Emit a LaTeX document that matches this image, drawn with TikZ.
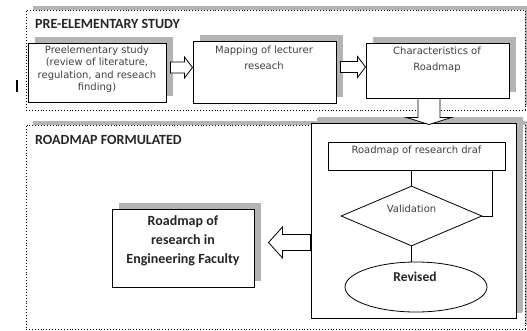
\documentclass[tikz,border=0pt]{standalone}
\usepackage{fontspec}
\setmainfont{DejaVu Sans}
\newfontfamily\calibri{Carlito}
\usepackage{xcolor}
\usetikzlibrary{calc,shapes.geometric,shadows}
\definecolor{txtgray}{HTML}{404040}
\definecolor{shadegray}{HTML}{B4B4B4}

\begin{document}
\begin{tikzpicture}[x=1pt,y=-1pt,
  frame/.style={draw, dotted, line width=0.9pt, fill=white, inner sep=0pt,
    drop shadow={shadow xshift=7pt, shadow yshift=4pt, fill=shadegray, opacity=1}},
  box/.style={draw, line width=1pt, fill=white, inner sep=0pt,
    drop shadow={shadow xshift=7pt, shadow yshift=6pt, fill=shadegray, opacity=1}},
  plain/.style={draw, line width=0.8pt, fill=white, inner sep=0pt},
  hollow/.style={draw, line width=0.8pt, fill=white, line join=miter},
  title/.style={font=\calibri\bfseries\fontsize{14}{16}\selectfont, text=black!85, anchor=west, inner sep=0pt},
  small/.style={font=\fontsize{10}{12.5}\selectfont, text=txtgray, align=center, inner sep=0pt},
  heavy/.style={font=\calibri\bfseries\fontsize{14}{19}\selectfont, text=black!85, align=center, inner sep=0pt}]
\useasboundingbox (0,0) rectangle (527,330);

\node[frame, minimum width=499, minimum height=100] (preframe) at (275.5,60) {};
\node[frame, minimum width=499, minimum height=204] (roadframe) at (275.5,227) {};
\node[title] (pretitle) at (35,24) {PRE-ELEMENTARY STUDY};
\node[title] (roadtitle) at (35,140) {ROADMAP FORMULATED};
\draw[line width=1.3pt] (17,80) -- (17,92);

\node[box, minimum width=138, minimum height=59] (prestudy) at (97,72.5) {};
\node[box, minimum width=143, minimum height=62] (mapping) at (264.5,72) {};
\node[box, minimum width=143, minimum height=55] (characteristics) at (437.5,70.5) {};
\node[small] (prestudytext) at (97,69) {Preelementary study\\(review of literature,\\regulation, and reseach\\finding)};
\node[small, font=\fontsize{10}{16}\selectfont] (mappingtext) at (264,58) {Mapping of lecturer\\reseach};
\node[small, font=\fontsize{10}{16}\selectfont] (characteristicstext) at (437,60) {Characteristics of\\Roadmap};

\node[box, minimum width=205, minimum height=195, drop shadow={shadow xshift=6pt, shadow yshift=5pt, fill=shadegray, opacity=1}] (validbox) at (413.5,220.5) {};
\node[plain, minimum width=177, minimum height=28] (draft) at (416.5,156) {};
\node[plain, diamond, minimum width=141, minimum height=60] (valid) at (411.5,216) {};
\node[plain, ellipse, minimum width=142, minimum height=50] (revised) at (416,287) {};
\node[small] (drafttext) at (416.5,151) {Roadmap of research draf};
\node[small] (validtext) at (411.5,209) {Validation};
\node[heavy, font=\calibri\bfseries\fontsize{13.5}{16}\selectfont] (revisedtext) at (415,277) {Revised};
\draw[line width=0.8pt] (draft.south -| valid.north) -- (valid.north);
\draw[line width=0.8pt] (valid.east) -| ($(draft.south east)+(-13,0)$);
\draw[line width=0.8pt] (valid.south) -- (valid.south |- revised.north);

\node[box, minimum width=142, minimum height=78] (result) at (183,248) {};
\node[heavy] (resulttext) at (183,241) {Roadmap of\\research in\\Engineering Faculty};

\foreach \a/\b in {prestudy/mapping, mapping/characteristics}{
  \coordinate (tip) at ($(\a.east -| \b.west)+(0,-5)$);
  \draw[hollow] ($(\a.east)+(4,-10.5)$) -- ($(tip)+(-8,-5.5)$) -- ++(0,-5) -- (tip) -- ++(-8,10.5) -- ++(0,-5) -- ($(\a.east)+(4,0.5)$) -- cycle;
}
\coordinate (downtip) at ($(characteristics.south |- validbox.north)+(-8.5,2)$);
\draw[hollow] ($(characteristics.south)+(-19.5,0)$) -- ($(downtip)+(-11,-7)$) -- ++(-11.5,0) -- (downtip) -- ++(22.5,-7) -- ++(-11.5,0) -- ($(characteristics.south)+(2.5,0)$) -- cycle;
\coordinate (lefttip) at ($(result.east)+(14,-5.5)$);
\draw[hollow] ($(lefttip -| validbox.west)+(0,-8)$) -- ($(lefttip)+(14,-8)$) -- ++(0,-7.5) -- (lefttip) -- ++(14,15.5) -- ++(0,-7.5) -- ($(lefttip -| validbox.west)+(0,8)$) -- cycle;

\end{tikzpicture}
\end{document}
